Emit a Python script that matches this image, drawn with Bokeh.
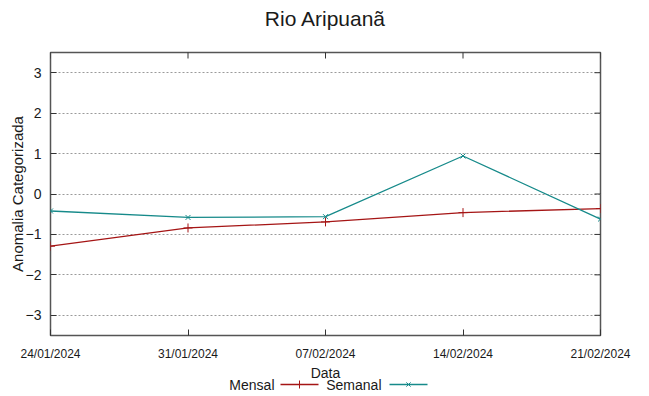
import math
import pandas as pd
from bokeh.plotting import figure
from bokeh.models import FixedTicker, Range1d, ColumnDataSource, CustomJSTickFormatter
from bokeh.layouts import column
from bokeh.core.properties import value
from bokeh.embed import file_html
from bokeh.resources import INLINE

# ---- data ----
title_text = "Rio Aripuanã"
dates = ["2024-01-24", "2024-01-31", "2024-02-07", "2024-02-14", "2024-02-21"]
tick_labels = ["24/01/2024", "31/01/2024", "07/02/2024", "14/02/2024", "21/02/2024"]
mensal = [-1.29, -0.84, -0.69, -0.46, -0.36]
semanal = [-0.42, -0.58, -0.56, 0.94, -0.62]
y_ticks = [-3, -2, -1, 0, 1, 2, 3]
y_label = "Anomalia Categorizada"
x_label = "Data"
series_names = ["Mensal", "Semanal"]

RED = "#a51515"
TEAL = "#168a8a"
FONT = "Liberation Sans"
TXT = "#1a1a1a"
FRAME = "#555555"
TICK = "#333333"

xd = pd.to_datetime(dates)
xms = [float(t.value // 10**6) for t in xd]
Y0, Y1 = -3.5, 3.5
src = ColumnDataSource(dict(x=xms, mensal=mensal, semanal=semanal))

W = 645
LEFT, RIGHT_EDGE = 50, 600
BR = W - RIGHT_EDGE


def strip(height):
    f = figure(width=W, height=height, output_backend="svg", toolbar_location=None,
               x_range=Range1d(LEFT, RIGHT_EDGE), y_range=Range1d(0, height),
               min_border_left=LEFT, min_border_right=BR,
               min_border_top=0, min_border_bottom=0)
    f.axis.visible = False
    f.grid.visible = False
    f.outline_line_color = None
    return f


# ---- title strip ----
T = strip(36)
T.text(x=[(LEFT + RIGHT_EDGE) / 2], y=[18], text=[title_text], text_font=value(FONT),
       text_font_size="21px", text_align="center", text_baseline="middle", text_color=TXT)

# ---- main plot ----
p = figure(width=W, height=327, output_backend="svg", toolbar_location=None,
           x_range=Range1d(xms[0], xms[-1]), y_range=Range1d(Y0, Y1),
           min_border_left=LEFT, min_border_right=BR, min_border_top=16,
           min_border_bottom=28)
p.outline_line_color = FRAME
p.outline_line_width = 1.5

xa = p.xaxis[0]
xa.ticker = FixedTicker(ticks=xms)
xa.formatter = CustomJSTickFormatter(args=dict(labels=tick_labels),
                                     code="return labels[index] ?? '';")
xa.axis_line_color = None
xa.major_tick_in = 6
xa.major_tick_out = 0
xa.major_tick_line_color = TICK
xa.minor_tick_line_color = None
xa.major_label_text_font = FONT
xa.major_label_text_color = TXT
xa.major_label_text_font_size = "12px"
xa.major_label_standoff = 11

ya = p.yaxis[0]
ya.ticker = FixedTicker(ticks=y_ticks)
ya.axis_line_color = None
ya.major_tick_in = 6
ya.major_tick_out = 0
ya.major_tick_line_color = TICK
ya.minor_tick_line_color = None
ya.major_label_text_font = FONT
ya.major_label_text_color = TXT
ya.major_label_text_font_size = "14px"
ya.major_label_standoff = 9
ya.axis_label = y_label
ya.axis_label_text_font = FONT
ya.axis_label_text_font_size = "15px"
ya.axis_label_text_font_style = "normal"
ya.axis_label_text_color = TXT
ya.axis_label_standoff = -3

p.xgrid.visible = False
p.ygrid.ticker = FixedTicker(ticks=y_ticks)
p.ygrid.grid_line_color = "#9a9a9a"
p.ygrid.grid_line_dash = "2 2"
p.ygrid.grid_line_width = 1

# mirrored ticks (inward): right side for y, top for x
p.scatter(x=[xms[-1]] * len(y_ticks), y=y_ticks, marker="dash", size=12,
          line_color=TICK, line_width=1)
p.scatter(x=xms, y=[Y1] * len(xms), marker="dash", angle=math.pi / 2, size=12,
          line_color=TICK, line_width=1)

p.line("x", "mensal", source=src, color=RED, line_width=1.3)
p.scatter("x", "mensal", source=src, marker="cross", size=9, line_color=RED, line_width=1)
p.line("x", "semanal", source=src, color=TEAL, line_width=1.3)
p.scatter("x", "semanal", source=src, marker="x", size=7, line_color=TEAL, line_width=1)

# ---- strip below: x label and legend ----
L = strip(32)
L.text(x=[(LEFT + RIGHT_EDGE) / 2], y=[23], text=[x_label], text_font=value(FONT),
       text_font_size="14px", text_align="center", text_baseline="middle", text_color=TXT)
L.text(x=[274, 381], y=[11, 11], text=series_names, text_font=value(FONT),
       text_font_size="14px", text_align="right", text_baseline="middle", text_color=TXT)
L.segment(x0=[280, 389], y0=[11, 11], x1=[318, 427], y1=[11, 11],
          line_color=[RED, TEAL], line_width=1.3)
L.scatter(x=[299], y=[11], marker="cross", size=8, line_color=RED)
L.scatter(x=[408], y=[11], marker="x", size=6, line_color=TEAL)

lay = column(T, p, L, spacing=0)
open("out.html", "w").write(file_html(lay, INLINE))
